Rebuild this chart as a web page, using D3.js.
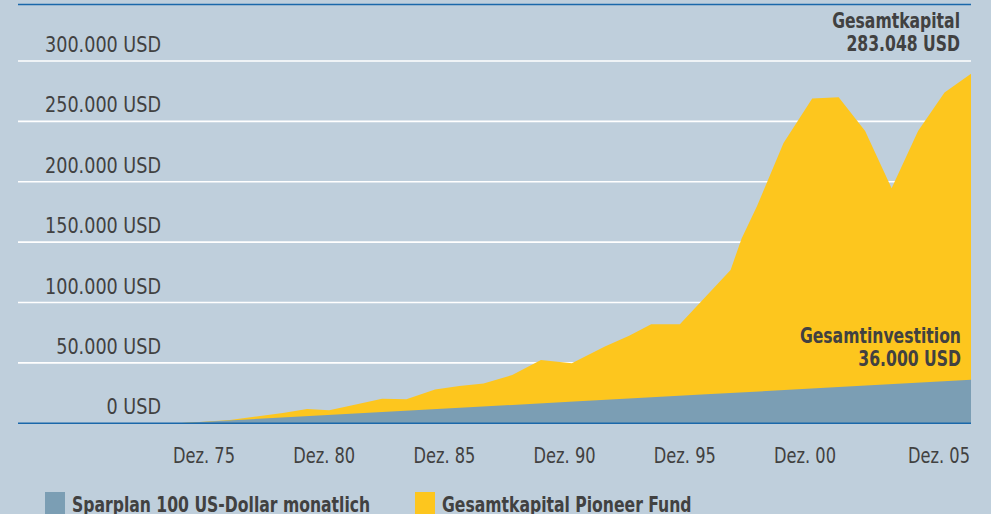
<!DOCTYPE html>
<html>
<head>
<meta charset="utf-8">
<script src="https://cdn.jsdelivr.net/npm/d3@7"></script>
<style>
	body { margin: 0; background: #bfcfdc; }
	svg { display: block; }
	text { font-family: "Liberation Sans Narrow", "DejaVu Sans Condensed", "Roboto", sans-serif; fill: #414141; }
</style>
</head>
<body>
<svg width="991" height="514"></svg>
<script>
// months since start of the savings plan, and total capital of the fund
const months = [0, 12, 24, 36, 48, 59, 69, 79, 93, 104, 117, 128, 139, 152, 165, 179, 194, 205, 215, 228, 251, 256, 263, 275, 288, 300, 312, 324, 336, 348, 360];
const capital = [0, 1300, 2800, 5600, 8500, 11800, 10900, 14800, 20300, 20000, 28000, 30900, 33000, 40000, 52400, 49700, 63500, 72400, 82000, 82000, 127000, 153000, 180000, 232000, 269000, 270000, 242000, 194700, 242000, 274000, 289500];

// paid in: 100 USD per month
const investMonths = [0, 60, 120, 180, 240, 300, 360];
const investment = [0, 6000, 12000, 18000, 24000, 30000, 36000];

const yTicks = [0, 50000, 100000, 150000, 200000, 250000, 300000];
const xYears = [1975, 1980, 1985, 1990, 1995, 2000, 2005];
const xLabels = ["Dez. 75", "Dez. 80", "Dez. 85", "Dez. 90", "Dez. 95", "Dez. 00", "Dez. 05"];

const legendLabels = ["Sparplan 100 US-Dollar monatlich", "Gesamtkapital Pioneer Fund"];
const legendColors = ["#7b9eb4", "#fdc61e"];

var svg = d3.select("svg");
const width = +svg.attr("width");
const height = +svg.attr("height");

const left = 18, right = 971;
// the fonts at hand are wider than the original condensed face
const narrow = 0.89, narrowBold = 0.79;

const de = d3.formatLocale({ decimal: ",", thousands: ".", grouping: [3], currency: ["", " USD"] });
const fmt = de.format(",");

const x = d3.scaleLinear().domain([0, 360]).range([177, 971]);
const y = d3.scaleLinear().domain([0, 300000]).range([423.3, 61]);
const xLab = d3.scaleLinear().domain([1975, 2000]).range([204, 805]);

svg.append("rect")
	.attr("width", width)
	.attr("height", height)
	.attr("fill", "#bfcfdc");

// grid
svg.append("g")
	.selectAll("line")
	.data(yTicks.slice(1))
	.join("line")
	.attr("x1", left)
	.attr("x2", right)
	.attr("y1", d => y(d))
	.attr("y2", d => y(d))
	.attr("stroke", "#ffffff")
	.attr("stroke-width", 1.6);

svg.append("g")
	.selectAll("text")
	.data(yTicks)
	.join("text")
	.attr("transform", d => `translate(161,${y(d) - 9}) scale(${narrow},1)`)
	.attr("text-anchor", "end")
	.attr("font-size", 22)
	.text(d => fmt(d) + " USD");

// areas
const capArea = d3.area()
	.x((d, i) => x(months[i]))
	.y0(y(0))
	.y1(d => y(d));

svg.append("path")
	.datum(capital)
	.attr("d", capArea)
	.attr("fill", "#fdc61e");

const invArea = d3.area()
	.x((d, i) => x(investMonths[i]))
	.y0(y(0))
	.y1(d => y(d));

svg.append("path")
	.datum(investment)
	.attr("d", invArea)
	.attr("fill", "#7b9eb4");

// frame lines
svg.append("line")
	.attr("x1", left).attr("x2", right)
	.attr("y1", 4.5).attr("y2", 4.5)
	.attr("stroke", "#1a68aa")
	.attr("stroke-width", 1.5);

svg.append("line")
	.attr("x1", left).attr("x2", right)
	.attr("y1", y(0)).attr("y2", y(0))
	.attr("stroke", "#1a68aa")
	.attr("stroke-width", 1.5);

// x labels
svg.append("g")
	.selectAll("text")
	.data(xYears)
	.join("text")
	.attr("transform", (d, i) => {
		let px = i == xYears.length - 1 ? right - 1 : xLab(d);
		return `translate(${px},463) scale(0.86,1)`;
	})
	.attr("text-anchor", (d, i) => i == xYears.length - 1 ? "end" : "middle")
	.attr("font-size", 21)
	.text((d, i) => xLabels[i]);

// annotations
const notes = svg.append("g")
	.attr("font-weight", "bold")
	.attr("font-size", 22)
	.attr("text-anchor", "end");

function note(txt, px, py) {
	notes.append("text")
		.attr("transform", `translate(${px},${py}) scale(${narrowBold},1)`)
		.text(txt);
}

note("Gesamtkapital", 960, 28);
note("283.048 USD", 960, 51);
note("Gesamtinvestition", 961, 343);
note(fmt(investment[investment.length - 1]) + " USD", 961, 366);

// legend
const legendX = [45, 415];
const legend = svg.append("g")
	.selectAll("g")
	.data(legendLabels)
	.join("g")
	.attr("transform", (d, i) => `translate(${legendX[i]},492)`);

legend.append("rect")
	.attr("width", 20)
	.attr("height", 24)
	.attr("fill", (d, i) => legendColors[i]);

legend.append("text")
	.attr("transform", `translate(27,20) scale(${narrowBold},1)`)
	.attr("font-size", 22)
	.attr("font-weight", "bold")
	.text(d => d);
</script>
</body>
</html>
